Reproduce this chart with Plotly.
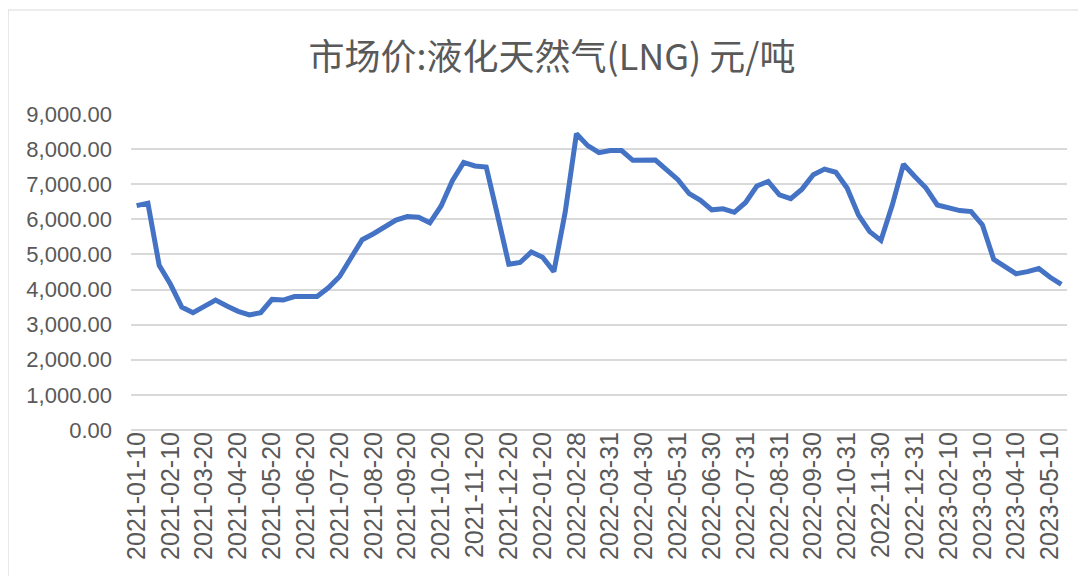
import plotly.graph_objects as go

dates = [
    "2021-01-10", "2021-01-20", "2021-01-31", "2021-02-10", "2021-02-28",
    "2021-03-10", "2021-03-20", "2021-03-31", "2021-04-10", "2021-04-20", "2021-04-30",
    "2021-05-10", "2021-05-20", "2021-05-31", "2021-06-10", "2021-06-20", "2021-06-30",
    "2021-07-10", "2021-07-20", "2021-07-31", "2021-08-10", "2021-08-20", "2021-08-31",
    "2021-09-10", "2021-09-20", "2021-09-30", "2021-10-10", "2021-10-20", "2021-10-31",
    "2021-11-10", "2021-11-20", "2021-11-30", "2021-12-10", "2021-12-20", "2021-12-31",
    "2022-01-10", "2022-01-20", "2022-01-31", "2022-02-20", "2022-02-28",
    "2022-03-10", "2022-03-20", "2022-03-31", "2022-04-10", "2022-04-20", "2022-04-30",
    "2022-05-10", "2022-05-20", "2022-05-31", "2022-06-10", "2022-06-20", "2022-06-30",
    "2022-07-10", "2022-07-20", "2022-07-31", "2022-08-10", "2022-08-20", "2022-08-31",
    "2022-09-10", "2022-09-20", "2022-09-30", "2022-10-10", "2022-10-20", "2022-10-31",
    "2022-11-10", "2022-11-20", "2022-11-30", "2022-12-10", "2022-12-20", "2022-12-31",
    "2023-01-10", "2023-01-20", "2023-02-10", "2023-02-20", "2023-02-28",
    "2023-03-10", "2023-03-20", "2023-03-31", "2023-04-10", "2023-04-20", "2023-04-30",
    "2023-05-10", "2023-05-20",
]

prices = [
    6390, 6460, 4690, 4150, 3500, 3340, 3520, 3700, 3530, 3380, 3280,
    3340, 3720, 3700, 3800, 3810, 3800, 4050, 4370, 4900, 5420, 5590,
    5780, 5980, 6080, 6060, 5900, 6380, 7100, 7620, 7520, 7490, 6120,
    4720, 4770, 5070, 4920, 4510, 6200, 8440, 8100, 7900, 7960, 7960,
    7680, 7700, 7690, 7410, 7130, 6730, 6540, 6270, 6300, 6200, 6480,
    6950, 7080, 6700, 6590, 6860, 7270, 7430, 7340, 6890, 6130, 5650,
    5400, 6400, 7570, 7220, 6890, 6410, 6320, 6250, 6220, 5840, 4860,
    4640, 4450, 4510, 4600, 4350, 4150,
]

tick_labels = dates[::3]

title_text = "市场价:液化天然气(LNG) 元/吨"

fig = go.Figure()
fig.add_trace(go.Scatter(
    x=dates, y=prices, mode="lines",
    line=dict(color="#4472C4", width=5),
    showlegend=False,
))

grey = "#595959"
# page body adds an ~8px offset; margins compensate for it
fig.update_layout(
    width=1086, height=576,
    margin=dict(l=123, r=27, t=106, b=154),
    paper_bgcolor="white", plot_bgcolor="white",
    title=dict(text=title_text, x=544 / 1086, xref="container", xanchor="center",
               y=1 - 49 / 576, yref="container", yanchor="middle",
               font=dict(family="Noto Sans CJK SC", size=36, color=grey)),
    font=dict(family="Liberation Sans, Noto Sans CJK SC", color=grey),
)
fig.update_xaxes(
    type="category", range=[-0.5, len(dates) - 0.5],
    tickmode="array", tickvals=tick_labels, ticktext=tick_labels,
    tickangle=-90, tickfont=dict(size=25, color=grey),
    showgrid=False, showline=False, zeroline=False, ticks="",
    ticklabelstandoff=-4,
)
fig.update_yaxes(
    range=[0, 9000], dtick=1000, tickformat=",.2f",
    tickfont=dict(size=22, color=grey),
    showgrid=True, gridcolor="#d9d9d9", gridwidth=1.5,
    zeroline=True, zerolinecolor="#d9d9d9", zerolinewidth=1.5,
    showline=False, ticks="", ticklabelstandoff=18,
)
fig.add_shape(type="rect", xref="paper", yref="paper",
              x0=(0 - 123) / 936, x1=1.2, y0=-0.6, y1=(422 - 2) / 316,
              line=dict(color="#d9d9d9", width=1.2), fillcolor="rgba(0,0,0,0)",
              layer="below")

fig.write_html("out.html")
